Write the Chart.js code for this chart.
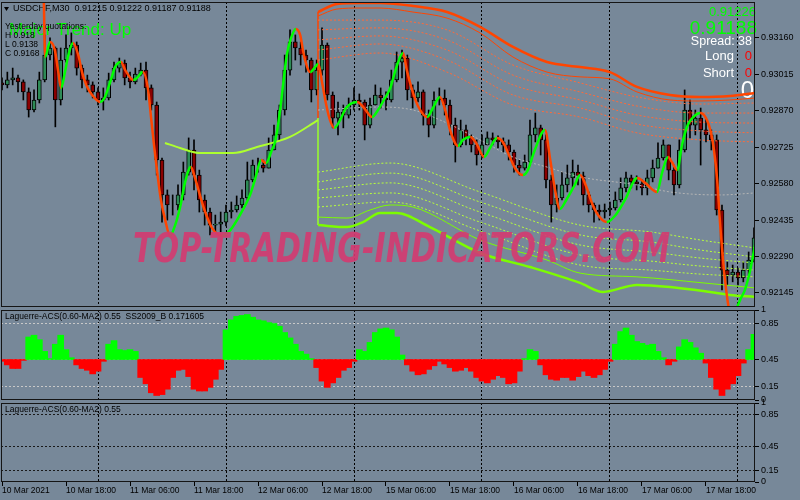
<!DOCTYPE html>
<html>
<head>
<meta charset="utf-8">
<script src="https://cdn.jsdelivr.net/npm/chart.js@4.4.1/dist/chart.umd.min.js"></script>
<style>
  html, body { margin: 0; padding: 0; background: #778899; }
  #wrap { position: relative; width: 800px; height: 500px; overflow: hidden; }
  #wrap canvas { position: absolute; left: 0; top: 0; }
</style>
</head>
<body>
<div id="wrap">
  <canvas id="mainChart" width="800" height="500"></canvas>
  <canvas id="acsChart" width="800" height="500"></canvas>
  <canvas id="acs2Chart" width="800" height="500"></canvas>
</div>
<script>
// Eixo de tempo: horas de negociação a partir de 10 Mar 06:00 (uma vela por hora)
const timeTicks = [0, 12, 24, 36, 48, 60, 72, 84, 96, 108, 120, 132];
const timeLabels = ['10 Mar 2021', '10 Mar 18:00', '11 Mar 06:00', '11 Mar 18:00', '12 Mar 06:00', '12 Mar 18:00',
  '15 Mar 06:00', '15 Mar 18:00', '16 Mar 06:00', '16 Mar 18:00', '17 Mar 06:00', '17 Mar 18:00'];
const dayLines = [18, 42, 66, 90, 114, 138];
const priceTicks = [0.92145, 0.92290, 0.92435, 0.92580, 0.92725, 0.92870, 0.93015, 0.93160];
const acsTicks = [0, 0.15, 0.45, 0.85, 1];
const acsBase = 0.45;

// Velas (fechamento / máxima / mínima)
const firstOpen = 0.92981;
const closes = [
  0.92973, 0.92993, 0.93001, 0.92985, 0.92945, 0.92873, 0.92913, 0.92993, 0.93092, 0.93120,
  0.92913, 0.93072, 0.93120, 0.93132, 0.93040, 0.92993, 0.92973, 0.92945, 0.92913, 0.92921,
  0.92993, 0.93040, 0.93060, 0.93001, 0.92985, 0.93016, 0.93032, 0.92961, 0.92893, 0.92674,
  0.92535, 0.92495, 0.92495, 0.92535, 0.92626, 0.92714, 0.92614, 0.92515, 0.92467, 0.92415,
  0.92419, 0.92427, 0.92467, 0.92475, 0.92495, 0.92523, 0.92595, 0.92654, 0.92654, 0.92642,
  0.92714, 0.92774, 0.92873, 0.93032, 0.93144, 0.93120, 0.93092, 0.93072, 0.92953, 0.93032,
  0.93132, 0.92933, 0.92841, 0.92865, 0.92853, 0.92893, 0.92913, 0.92905, 0.92813, 0.92893,
  0.92933, 0.92921, 0.92913, 0.92993, 0.93064, 0.93080, 0.92953, 0.92921, 0.92945, 0.92853,
  0.92813, 0.92913, 0.92921, 0.92893, 0.92813, 0.92734, 0.92794, 0.92762, 0.92734, 0.92694,
  0.92734, 0.92762, 0.92754, 0.92746, 0.92734, 0.92706, 0.92654, 0.92642, 0.92666, 0.92774,
  0.92802, 0.92754, 0.92595, 0.92495, 0.92523, 0.92575, 0.92603, 0.92626, 0.92611, 0.92535,
  0.92495, 0.92475, 0.92467, 0.92475, 0.92483, 0.92515, 0.92563, 0.92603, 0.92587, 0.92579,
  0.92563, 0.92603, 0.92642, 0.92682, 0.92734, 0.92634, 0.92575, 0.92714, 0.92873, 0.92813,
  0.92841, 0.92794, 0.92774, 0.92754, 0.92475, 0.92236, 0.92216, 0.92228, 0.92205, 0.92236,
  0.92276, 0.92364
];
const highs = [
  0.93001, 0.93024, 0.93040, 0.93012, 0.92993, 0.92961, 0.92953, 0.93024, 0.93172, 0.93160,
  0.93124, 0.93120, 0.93172, 0.93180, 0.93144, 0.93052, 0.93012, 0.92985, 0.92961, 0.92961,
  0.93020, 0.93064, 0.93080, 0.93072, 0.93024, 0.93040, 0.93060, 0.93064, 0.92973, 0.92905,
  0.92682, 0.92555, 0.92535, 0.92575, 0.92666, 0.92762, 0.92754, 0.92634, 0.92535, 0.92483,
  0.92455, 0.92467, 0.92495, 0.92507, 0.92531, 0.92555, 0.92666, 0.92674, 0.92682, 0.92674,
  0.92762, 0.92813, 0.92893, 0.93092, 0.93192, 0.93172, 0.93144, 0.93112, 0.93080, 0.93072,
  0.93200, 0.93140, 0.92945, 0.92905, 0.92893, 0.92921, 0.92961, 0.92937, 0.92913, 0.92921,
  0.92973, 0.92961, 0.92945, 0.93032, 0.93104, 0.93112, 0.93092, 0.92973, 0.92985, 0.92953,
  0.92873, 0.92945, 0.92961, 0.92953, 0.92913, 0.92841, 0.92833, 0.92813, 0.92774, 0.92754,
  0.92774, 0.92786, 0.92782, 0.92770, 0.92762, 0.92754, 0.92714, 0.92674, 0.92694, 0.92833,
  0.92861, 0.92813, 0.92774, 0.92614, 0.92575, 0.92626, 0.92654, 0.92674, 0.92654, 0.92626,
  0.92547, 0.92503, 0.92495, 0.92499, 0.92507, 0.92547, 0.92603, 0.92626, 0.92614, 0.92611,
  0.92595, 0.92634, 0.92674, 0.92742, 0.92754, 0.92734, 0.92654, 0.92754, 0.92953, 0.92913,
  0.92873, 0.92881, 0.92841, 0.92794, 0.92774, 0.92495, 0.92268, 0.92256, 0.92244, 0.92268,
  0.92308, 0.92404
];
const lows = [
  0.92953, 0.92961, 0.92973, 0.92945, 0.92913, 0.92845, 0.92865, 0.92901, 0.92985, 0.93072,
  0.92806, 0.92893, 0.93064, 0.93092, 0.93012, 0.92961, 0.92945, 0.92921, 0.92893, 0.92873,
  0.92913, 0.92985, 0.93024, 0.92973, 0.92961, 0.92977, 0.93009, 0.92913, 0.92873, 0.92614,
  0.92427, 0.92435, 0.92455, 0.92475, 0.92515, 0.92614, 0.92555, 0.92467, 0.92415, 0.92376,
  0.92388, 0.92388, 0.92412, 0.92443, 0.92467, 0.92483, 0.92515, 0.92587, 0.92626, 0.92626,
  0.92642, 0.92714, 0.92754, 0.92853, 0.93012, 0.93072, 0.93052, 0.93024, 0.92905, 0.92933,
  0.93012, 0.92913, 0.92802, 0.92774, 0.92802, 0.92841, 0.92873, 0.92873, 0.92754, 0.92802,
  0.92893, 0.92881, 0.92873, 0.92905, 0.92985, 0.93001, 0.92913, 0.92881, 0.92905, 0.92813,
  0.92766, 0.92802, 0.92893, 0.92853, 0.92774, 0.92666, 0.92726, 0.92734, 0.92706, 0.92654,
  0.92682, 0.92734, 0.92734, 0.92722, 0.92706, 0.92674, 0.92626, 0.92614, 0.92634, 0.92654,
  0.92746, 0.92694, 0.92563, 0.92427, 0.92467, 0.92515, 0.92547, 0.92563, 0.92575, 0.92495,
  0.92467, 0.92427, 0.92435, 0.92443, 0.92455, 0.92475, 0.92507, 0.92547, 0.92563, 0.92555,
  0.92535, 0.92535, 0.92587, 0.92642, 0.92674, 0.92595, 0.92535, 0.92563, 0.92706, 0.92762,
  0.92774, 0.92654, 0.92746, 0.92714, 0.92455, 0.92157, 0.92177, 0.92189, 0.92177, 0.92189,
  0.92216, 0.92268
];
// abertura = fechamento anterior
const opens = [firstOpen].concat(closes.slice(0, -1));

// Média suave (verde subindo, laranja descendo)
const maHours = [7.8, 8.1, 9.0, 9.9, 10.5, 11.1, 11.8, 12.4, 13.3, 14.3,
  15.0, 15.8, 16.9, 18.4, 19.3, 20.3, 21.2, 22.3, 23.1, 24.6,
  25.3, 26.4, 27.4, 27.9, 28.5, 29.1, 29.8, 30.6, 31.5, 32.4,
  33.4, 34.3, 35.4, 36.2, 37.1, 38.1, 39.4, 41.3, 42.8, 44.6,
  46.5, 47.4, 48.6, 49.5, 50.6, 51.2, 52.1, 52.7, 53.4, 54.2,
  55.1, 55.9, 56.6, 57.8, 58.7, 59.3, 60.0, 60.8, 61.5, 62.3,
  63.4, 64.5, 66.6, 67.9, 69.4, 70.5, 71.6, 72.8, 73.9, 75.2,
  75.9, 76.9, 78.0, 79.7, 80.8, 82.1, 83.1, 84.0, 85.5, 86.4,
  87.8, 88.9, 90.4, 91.5, 92.8, 93.9, 95.3, 96.4, 97.7, 98.6,
  99.9, 101.8, 102.8, 103.7, 104.6, 105.8, 107.3, 108.4, 109.5, 110.6,
  111.9, 113.4, 114.9, 116.8, 119.1, 120.6, 122.8, 123.8, 124.9, 125.6,
  126.6, 127.5, 128.6, 129.8, 130.9, 132.0, 132.9, 133.5, 134.1, 134.6,
  135.2, 135.9, 136.5, 137.1, 137.6, 138.4, 139.3, 140.3, 141.2];
const maPrices = [0.93351, 0.93084, 0.93144, 0.93112, 0.93032, 0.92961, 0.93024, 0.93088, 0.93140, 0.93092,
  0.93024, 0.92973, 0.92933, 0.92905, 0.92925, 0.92985, 0.93044, 0.93064, 0.93032, 0.92993,
  0.93001, 0.93024, 0.92953, 0.92853, 0.92734, 0.92626, 0.92515, 0.92435, 0.92372, 0.92411,
  0.92487, 0.92583, 0.92646, 0.92602, 0.92535, 0.92467, 0.92403, 0.92372, 0.92395, 0.92455,
  0.92535, 0.92594, 0.92674, 0.92662, 0.92714, 0.92746, 0.92865, 0.92973, 0.93092, 0.93160,
  0.93196, 0.93172, 0.93092, 0.93024, 0.93044, 0.93056, 0.92985, 0.92893, 0.92833, 0.92802,
  0.92833, 0.92881, 0.92905, 0.92881, 0.92845, 0.92873, 0.92913, 0.92961, 0.93040, 0.93100,
  0.93032, 0.92953, 0.92889, 0.92845, 0.92881, 0.92925, 0.92873, 0.92794, 0.92730, 0.92754,
  0.92766, 0.92742, 0.92686, 0.92722, 0.92762, 0.92746, 0.92682, 0.92634, 0.92614, 0.92634,
  0.92714, 0.92794, 0.92674, 0.92555, 0.92479, 0.92515, 0.92571, 0.92614, 0.92571, 0.92503,
  0.92451, 0.92427, 0.92451, 0.92515, 0.92602, 0.92583, 0.92547, 0.92626, 0.92686, 0.92666,
  0.92634, 0.92734, 0.92814, 0.92849, 0.92861, 0.92841, 0.92786, 0.92714, 0.92594, 0.92435,
  0.92276, 0.92137, 0.92057, 0.91998, 0.92069, 0.92117, 0.92157, 0.92236, 0.92336];

// Canal de regressão (laranja em cima, verde embaixo)
const edgeHour = 59.25;
const edgePrices = [0.92415, 0.92841, 0.93263];
const upperHours = [59.25, 62.81, 67.13, 70.88, 77.06, 83.44, 89.63, 95.81, 102.19, 108.38, 114.0, 119.06, 125.25, 130.88, 136.5, 141.19];
const upperOuter = [0.93263, 0.93295, 0.93299, 0.93299, 0.93287, 0.93263, 0.93204, 0.93124, 0.93064, 0.93044, 0.93024, 0.92965, 0.92933, 0.92925, 0.92929, 0.92941];
const upperInner = [0.93247, 0.93275, 0.93279, 0.93279, 0.93263, 0.93239, 0.93180, 0.93084, 0.93024, 0.93005, 0.92997, 0.92945, 0.92913, 0.92909, 0.92913, 0.92921];
const upperDotHours = [59.25, 70.88, 83.44, 95.81, 108.38, 119.06, 130.88, 141.19];
const upperDots1 = [0.93231, 0.93231, 0.93192, 0.93052, 0.92981, 0.92925, 0.92897, 0.92901];
const upperDots2 = [0.93192, 0.93200, 0.93152, 0.93012, 0.92945, 0.92889, 0.92861, 0.92861];
const upperDots3 = [0.93152, 0.93168, 0.93112, 0.92973, 0.92913, 0.92853, 0.92825, 0.92821];
const upperDots4 = [0.93112, 0.93136, 0.93072, 0.92933, 0.92881, 0.92817, 0.92790, 0.92782];
const upperDots5 = [0.93072, 0.93100, 0.93024, 0.92893, 0.92845, 0.92782, 0.92754, 0.92746];
const lowerOuterHours = [59.25, 64.69, 67.69, 70.88, 74.06, 80.25, 89.63, 99.0, 108.38, 112.69, 119.06, 125.25, 132.75, 136.5, 141.19];
const lowerOuter = [0.92415, 0.92407, 0.92427, 0.92463, 0.92463, 0.92407, 0.92304, 0.92248, 0.92185, 0.92149, 0.92177, 0.92169, 0.92149, 0.92137, 0.92129];
const lowerInnerHours = [59.25, 64.69, 69.0, 72.75, 77.06, 89.63, 102.19, 108.38, 119.06, 131.44, 141.19];
const lowerInner = [0.92447, 0.92443, 0.92475, 0.92495, 0.92487, 0.92356, 0.92276, 0.92224, 0.92209, 0.92185, 0.92165];
const lowerDotHours = [59.25, 72.75, 89.63, 108.38, 121.5, 130.88, 141.19];
const lowerDots1 = [0.92487, 0.92507, 0.92392, 0.92256, 0.92236, 0.92220, 0.92209];
const lowerDots2 = [0.92523, 0.92543, 0.92427, 0.92296, 0.92272, 0.92252, 0.92236];
const lowerDots3 = [0.92555, 0.92583, 0.92467, 0.92336, 0.92308, 0.92284, 0.92264];
const lowerDots4 = [0.92587, 0.92622, 0.92507, 0.92376, 0.92348, 0.92316, 0.92288];
const lowerDots5 = [0.92626, 0.92662, 0.92547, 0.92415, 0.92388, 0.92356, 0.92324];
const midHours = [59.25, 70.88, 77.06, 83.44, 89.63, 95.81, 102.19, 108.38, 119.06, 125.25, 134.63, 141.19];
const midLine = [0.92873, 0.92885, 0.92873, 0.92821, 0.92754, 0.92686, 0.92646, 0.92607, 0.92575, 0.92547, 0.92535, 0.92543];
const prevHours = [30.56, 33.38, 37.13, 39.0, 43.31, 47.81, 54.0, 59.25];
const prevLine = [0.92742, 0.92722, 0.92702, 0.92702, 0.92702, 0.92726, 0.92766, 0.92833];

// Laguerre-ACS (histograma em torno de 0.45)
const acsValues = [
  0.43, 0.39, 0.35, 0.35, 0.44, 0.70, 0.72, 0.67, 0.54, 0.46,
  0.62, 0.72, 0.56, 0.47, 0.39, 0.35, 0.33, 0.29, 0.32, 0.43,
  0.62, 0.66, 0.56, 0.55, 0.56, 0.54, 0.25, 0.18, 0.08, 0.05,
  0.06, 0.12, 0.25, 0.33, 0.34, 0.26, 0.12, 0.10, 0.10, 0.14,
  0.23, 0.34, 0.78, 0.89, 0.93, 0.94, 0.95, 0.92, 0.89, 0.88,
  0.86, 0.85, 0.82, 0.75, 0.69, 0.62, 0.54, 0.51, 0.46, 0.36,
  0.21, 0.14, 0.19, 0.25, 0.33, 0.36, 0.43, 0.56, 0.54, 0.64,
  0.75, 0.79, 0.80, 0.78, 0.70, 0.50, 0.39, 0.32, 0.28, 0.29,
  0.34, 0.38, 0.43, 0.40, 0.36, 0.32, 0.33, 0.36, 0.32, 0.25,
  0.21, 0.19, 0.23, 0.27, 0.25, 0.18, 0.19, 0.32, 0.46, 0.56,
  0.54, 0.39, 0.28, 0.23, 0.22, 0.25, 0.25, 0.22, 0.26, 0.32,
  0.27, 0.25, 0.28, 0.34, 0.43, 0.62, 0.76, 0.80, 0.72, 0.65,
  0.63, 0.61, 0.62, 0.54, 0.47, 0.39, 0.43, 0.59, 0.67, 0.64,
  0.58, 0.52, 0.41, 0.25, 0.12, 0.05, 0.12, 0.18, 0.27, 0.41,
  0.56, 0.73
];

// ---------- configuração ----------
const X_MIN = -0.19, X_MAX = 141.19;
const Y_MIN = 0.92089, Y_MAX = 0.93303;
const FONT = "'Liberation Sans', Arial, sans-serif";
const LIME = '#00ff00', ORANGE = '#ff4500';

Chart.defaults.font.family = FONT;
Chart.defaults.font.size = 9;
Chart.defaults.color = '#000';
Chart.defaults.animation = false;
Chart.defaults.plugins.legend.display = false;
Chart.defaults.plugins.tooltip.enabled = false;

function pts(xs, ys) {
  return xs.map((x, i) => ({ x: x, y: ys[i] }));
}

function lineSet(xs, ys, color, width, dash) {
  return {
    type: 'line', data: pts(xs, ys), borderColor: color, borderWidth: width,
    borderDash: dash || [], pointRadius: 0, fill: false, tension: 0.4,
    cubicInterpolationMode: 'monotone', order: 3
  };
}

// eixo x só com as linhas verticais pontilhadas de cada dia
function dayGridAxis() {
  return {
    type: 'linear', position: 'bottom', min: X_MIN, max: X_MAX, offset: false,
    afterBuildTicks: a => { a.ticks = dayLines.map(v => ({ value: v })); },
    afterFit: a => { a.height = 0; a.paddingLeft = 0; a.paddingRight = 0; },
    ticks: { display: false },
    grid: { color: '#000', lineWidth: 1, drawTicks: false, offset: false },
    border: { display: false, dash: [2, 2] }
  };
}

function rightAxis(min, max, ticks, fmt, gridColor) {
  return {
    type: 'linear', position: 'right', min: min, max: max,
    afterBuildTicks: a => { a.ticks = ticks.map(v => ({ value: v })); },
    afterFit: a => { a.width = 45; a.paddingTop = 0; a.paddingBottom = 0; },
    ticks: { callback: fmt, padding: 2, font: { size: 9 }, color: '#000' },
    grid: {
      drawOnChartArea: !!gridColor, tickLength: 4, tickColor: '#000',
      color: c => (!gridColor || c.tick.value === 0 || c.tick.value === 1) ? 'rgba(0,0,0,0)' : gridColor
    },
    border: { display: false, dash: [2, 2] }
  };
}

// moldura de cada painel
const framePlugin = {
  id: 'frame',
  afterDraw(chart) {
    const { ctx, chartArea: a } = chart;
    ctx.save();
    ctx.strokeStyle = '#151515';
    ctx.lineWidth = 1;
    ctx.strokeRect(Math.round(a.left) + 0.5, Math.round(a.top) + 0.5,
      Math.round(a.right - a.left) - 1, Math.round(a.bottom - a.top) - 1);
    ctx.restore();
  }
};

function textPlugin(items) {
  return {
    id: 'labels',
    beforeDatasetsDraw(chart) {
      const ctx = chart.ctx;
      ctx.save();
      ctx.textBaseline = 'middle';
      items.forEach(t => {
        ctx.font = t.font;
        ctx.fillStyle = t.color;
        ctx.textAlign = t.align || 'left';
        ctx.fillText(t.text, t.x, t.y);
      });
      ctx.restore();
    }
  };
}

const mainTexts = [
  { text: 'USDCHF,M30  0.91215 0.91222 0.91187 0.91188', x: 13, y: 9, font: '9px ' + FONT, color: '#000' },
  { text: 'Major Trend: Up', x: 9, y: 30, font: '17px ' + FONT, color: LIME },
  { text: 'Yesterday quotations:', x: 5, y: 27, font: '8.5px ' + FONT, color: '#000' },
  { text: 'H 0.918', x: 5, y: 36, font: '8.5px ' + FONT, color: '#000' },
  { text: 'L 0.9138', x: 5, y: 45, font: '8.5px ' + FONT, color: '#000' },
  { text: 'C 0.9168', x: 5, y: 54, font: '8.5px ' + FONT, color: '#000' },
  { text: '0.91226', x: 756, y: 12, font: '13px ' + FONT, color: LIME, align: 'right' },
  { text: '0.91188', x: 757, y: 29, font: '19px ' + FONT, color: LIME, align: 'right' },
  { text: 'Spread: 38', x: 752, y: 42, font: '12.5px ' + FONT, color: '#fff', align: 'right' },
  { text: 'Long', x: 734, y: 56, font: '13px ' + FONT, color: '#fff', align: 'right' },
  { text: '0', x: 752, y: 56, font: '13px ' + FONT, color: '#ff0000', align: 'right' },
  { text: 'Short', x: 734, y: 73, font: '13px ' + FONT, color: '#fff', align: 'right' },
  { text: '0', x: 752, y: 73, font: '13px ' + FONT, color: '#ff0000', align: 'right' },
  { text: '0', x: 754, y: 91, font: '24px ' + FONT, color: '#fff', align: 'right' }
];

const headerPlugin = {
  id: 'header',
  beforeDatasetsDraw(chart) {
    const ctx = chart.ctx;
    ctx.save();
    ctx.fillStyle = '#000';
    ctx.beginPath();
    ctx.moveTo(4, 7); ctx.lineTo(9, 7); ctx.lineTo(6.5, 11); ctx.closePath();
    ctx.fill();
    ctx.restore();
  }
};

const watermarkPlugin = {
  id: 'watermark',
  afterDatasetsDraw(chart) {
    const ctx = chart.ctx;
    const wm = 'TOP-TRADING-INDICATORS.COM';
    ctx.save();
    ctx.font = "italic bold 40px 'DejaVu Sans'";
    const w = ctx.measureText(wm).width;
    ctx.translate(133, 262);
    ctx.scale(537 / w, 1);
    ctx.fillStyle = 'rgba(212, 58, 112, 0.9)';
    ctx.textBaseline = 'alphabetic';
    ctx.fillText(wm, 0, 0);
    ctx.restore();
  }
};

// ---------- painel principal ----------
const bodies = closes.map((c, i) => ({ x: i, y: [opens[i], c] }));
const bodyColors = closes.map((c, i) => c >= opens[i] ? '#2e8b57' : '#8b0000');
const wicks = lows.map((l, i) => ({ x: i, y: [l, highs[i]] }));

new Chart(document.getElementById('mainChart'), {
  type: 'bar',
  data: {
    datasets: [
      { type: 'bar', data: wicks, grouped: false, barThickness: 1, backgroundColor: '#000', borderWidth: 0, order: 9 },
      { type: 'bar', data: bodies, grouped: false, barThickness: 4, backgroundColor: bodyColors,
        borderColor: '#000', borderWidth: 1, borderSkipped: false, order: 8 },
      lineSet(prevHours, prevLine, '#adff2f', 2),
      lineSet(midHours, midLine, '#b4b4b4', 1, [2, 2]),
      lineSet(upperDotHours, upperDots1, '#ff6a3a', 1, [2, 2]),
      lineSet(upperDotHours, upperDots2, '#ff6a3a', 1, [2, 2]),
      lineSet(upperDotHours, upperDots3, '#ff6a3a', 1, [2, 2]),
      lineSet(upperDotHours, upperDots4, '#ff6a3a', 1, [2, 2]),
      lineSet(upperDotHours, upperDots5, '#ff6a3a', 1, [2, 2]),
      lineSet(upperHours, upperInner, ORANGE, 1),
      lineSet(upperHours, upperOuter, ORANGE, 2.5),
      lineSet(lowerDotHours, lowerDots1, '#b8ff3a', 1, [2, 2]),
      lineSet(lowerDotHours, lowerDots2, '#b8ff3a', 1, [2, 2]),
      lineSet(lowerDotHours, lowerDots3, '#b8ff3a', 1, [2, 2]),
      lineSet(lowerDotHours, lowerDots4, '#b8ff3a', 1, [2, 2]),
      lineSet(lowerDotHours, lowerDots5, '#b8ff3a', 1, [2, 2]),
      lineSet(lowerInnerHours, lowerInner, '#7cfc00', 1),
      lineSet(lowerOuterHours, lowerOuter, '#7cfc00', 2.5),
      { type: 'line', data: [{ x: edgeHour, y: edgePrices[1] }, { x: edgeHour, y: edgePrices[2] }],
        borderColor: ORANGE, borderWidth: 1.5, pointRadius: 0, order: 3 },
      { type: 'line', data: [{ x: edgeHour, y: edgePrices[0] }, { x: edgeHour, y: edgePrices[1] }],
        borderColor: '#9aff2a', borderWidth: 1.5, pointRadius: 0, order: 3 },
      {
        type: 'line', data: pts(maHours, maPrices), borderWidth: 2.5, pointRadius: 0, fill: false,
        tension: 0.4, cubicInterpolationMode: 'monotone', order: 1,
        borderColor: ORANGE,
        segment: { borderColor: c => c.p1.parsed.y >= c.p0.parsed.y ? LIME : ORANGE }
      }
    ]
  },
  options: {
    responsive: false,
    devicePixelRatio: 1,
    layout: { padding: { left: 1, right: 0, top: 2, bottom: 193 } },
    scales: {
      x: dayGridAxis(),
      y: rightAxis(Y_MIN, Y_MAX, priceTicks, v => v.toFixed(5), null)
    }
  },
  plugins: [textPlugin(mainTexts), headerPlugin, watermarkPlugin, framePlugin]
});

// ---------- painel Laguerre-ACS + SS2009_B ----------
new Chart(document.getElementById('acsChart'), {
  type: 'bar',
  data: {
    datasets: [{
      type: 'bar',
      data: acsValues.map((v, i) => ({ x: i, y: [acsBase, v] })),
      backgroundColor: acsValues.map(v => v >= acsBase ? '#00ff00' : '#ff0000'),
      grouped: false, barThickness: 6, borderWidth: 0
    }]
  },
  options: {
    responsive: false,
    devicePixelRatio: 1,
    layout: { padding: { left: 1, right: 0, top: 310, bottom: 100 } },
    scales: {
      x: dayGridAxis(),
      y: rightAxis(0, 1, acsTicks, v => String(v), '#c8c8c8')
    }
  },
  plugins: [textPlugin([
    { text: 'Laguerre-ACS(0.60-MA2) 0.55  SS2009_B 0.171605', x: 5, y: 317, font: '8.5px ' + FONT, color: '#000' }
  ]), framePlugin]
});

// ---------- painel Laguerre-ACS (vazio) + eixo de tempo ----------
const gridX = dayGridAxis();
new Chart(document.getElementById('acs2Chart'), {
  type: 'bar',
  data: { datasets: [] },
  options: {
    responsive: false,
    devicePixelRatio: 1,
    layout: { padding: { left: 1, right: 0, top: 403, bottom: 0 } },
    scales: {
      xg: gridX,
      x: {
        type: 'linear', position: 'bottom', min: X_MIN, max: X_MAX, offset: false,
        afterBuildTicks: a => { a.ticks = timeTicks.map(v => ({ value: v })); },
        afterFit: a => { a.height = 18; a.paddingLeft = 0; a.paddingRight = 0; },
        ticks: {
          autoSkip: false, maxRotation: 0, minRotation: 0, align: 'start', padding: 0,
          font: { size: 8.5 }, color: '#000', callback: (v, i) => timeLabels[i]
        },
        grid: { drawOnChartArea: false, drawTicks: true, tickLength: 4, tickColor: '#000', offset: false },
        border: { display: false }
      },
      y: rightAxis(0, 1, acsTicks, v => String(v), '#1a1a1a')
    }
  },
  plugins: [textPlugin([
    { text: 'Laguerre-ACS(0.60-MA2) 0.55', x: 5, y: 410, font: '8.5px ' + FONT, color: '#000' }
  ]), framePlugin]
});
</script>
</body>
</html>
